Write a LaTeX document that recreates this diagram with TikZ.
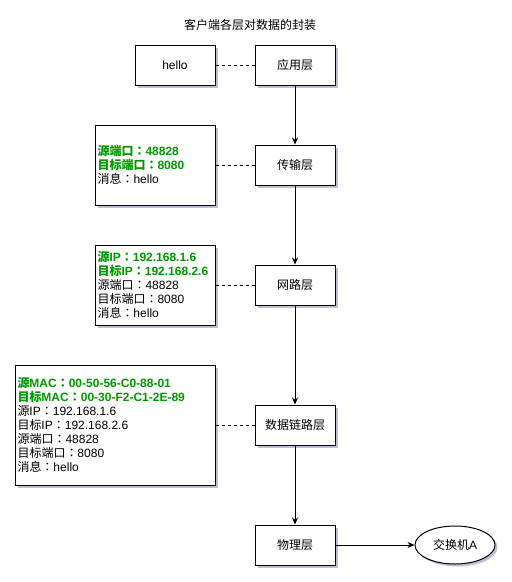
\documentclass[tikz,border=0pt]{standalone}
\usepackage{fontspec}
\setmainfont{Noto Sans CJK SC}
\newfontfamily\lt{Liberation Sans}
\newfontfamily\tcf{Noto Sans CJK TC}
\newcommand{\cln}{{\tcf ：}}
\usetikzlibrary{shapes.geometric,shadows,arrows.meta}
\definecolor{grn}{RGB}{0,153,0}
\begin{document}
\begin{tikzpicture}[x=1pt,y=-1pt,
  every node/.style={font=\fontsize{12}{14}\selectfont},
  shad/.style={drop shadow={shadow xshift=2.5pt,shadow yshift=-2.5pt,fill=black!60!blue,opacity=0.25}},
  layer/.style={draw,line width=1pt,fill=white,minimum width=80pt,minimum height=40pt,inner sep=0pt,shad},
  info/.style={draw,line width=1pt,fill=white,align=left,inner sep=0pt,inner xsep=2.5pt,shad},
  dashline/.style={line width=0.8pt,dash pattern=on 3pt off 3pt},
  arr/.style={line width=1pt,-{Stealth[length=7pt,width=6pt]}}]
\useasboundingbox (0,0) rectangle (512,582);
\node (title) at (250,25) {客户端各层对数据的封装};
% layers
\node[layer] (app) at (295,65) {应用层};
\node[layer] (trans) at (295,165) {传输层};
\node[layer] (net) at (295,285) {网路层};
\node[layer] (link) at (295,425) {数据链路层};
\node[layer] (phy) at (295,545) {物理层};
\node[draw,line width=1pt,fill=white,ellipse,minimum width=80pt,minimum height=38pt,inner sep=0pt,shad] (sw) at (455,545) {交换机{\lt A}};
% info boxes
\node[layer] (hello) at (175,65) {\lt hello};
\node[info,text width=115pt,minimum height=80pt] (tinfo) at (155,165) {%
  \textcolor{grn}{\bfseries 源端口\cln{\lt 48828}}\\
  \textcolor{grn}{\bfseries 目标端口\cln{\lt 8080}}\\
  消息\cln{\lt hello}};
\node[info,text width=115pt,minimum height=80pt] (ninfo) at (155,285) {%
  \textcolor{grn}{\bfseries 源{\lt IP}\cln{\lt 192.168.1.6}}\\
  \textcolor{grn}{\bfseries 目标{\lt IP}\cln{\lt 192.168.2.6}}\\
  源端口\cln{\lt 48828}\\
  目标端口\cln{\lt 8080}\\
  消息\cln{\lt hello}};
\node[info,text width=195pt,minimum height=120pt] (linfo) at (115,425) {%
  \textcolor{grn}{\bfseries 源{\lt MAC}\cln{\lt 00-50-56-C0-88-01}}\\
  \textcolor{grn}{\bfseries 目标{\lt MAC}\cln{\lt 00-30-F2-C1-2E-89}}\\
  源{\lt IP}\cln{\lt 192.168.1.6}\\
  目标{\lt IP}\cln{\lt 192.168.2.6}\\
  源端口\cln{\lt 48828}\\
  目标端口\cln{\lt 8080}\\
  消息\cln{\lt hello}};
% dashed links
\draw[dashline] (hello.east) -- (app.west);
\draw[dashline] (tinfo.east) -- (trans.west);
\draw[dashline] (ninfo.east) -- (net.west);
\draw[dashline] (linfo.east) -- (link.west);
% arrows
\draw[arr] (app) -- (trans);
\draw[arr] (trans) -- (net);
\draw[arr] (net) -- (link);
\draw[arr] (link) -- (phy);
\draw[arr] (phy) -- (sw);
\end{tikzpicture}
\end{document}
